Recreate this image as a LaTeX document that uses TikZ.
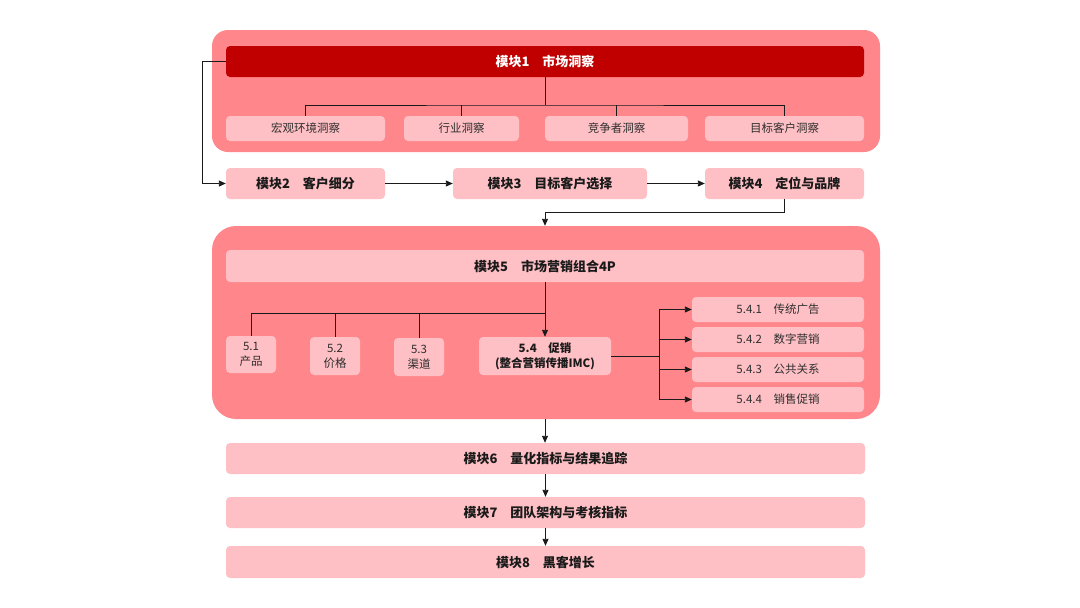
\documentclass[tikz,border=0pt]{standalone}
\usepackage{fontspec}
\setmainfont{Noto Sans CJK SC}
\usepackage{xcolor}
\usepackage{tikz}
\usetikzlibrary{arrows.meta}
\definecolor{panelred}{HTML}{FF868B}
\definecolor{boxpink}{HTML}{FFC0C5}
\definecolor{headred}{HTML}{C00000}
\definecolor{ink}{HTML}{1A1A1A}
\definecolor{inkm}{HTML}{2E2E2E}
\tikzset{
  panel/.style={fill=panelred, inner sep=0pt},
  head/.style={fill=headred, rounded corners=4pt, text=white, inner sep=0pt, font=\bfseries\fontsize{13}{15}\selectfont},
  modbox/.style={fill=boxpink, rounded corners=4pt, text=ink, inner sep=0pt, font=\bfseries\fontsize{13}{15}\selectfont},
  subbox/.style={fill=boxpink, rounded corners=4pt, text=inkm, inner sep=0pt, align=center, font=\fontsize{11.5}{15}\selectfont},
  link/.style={draw=ink, line width=0.9pt},
  arr/.style={link, -{Triangle[length=7pt,width=6pt]}}
}

\begin{document}
\begin{tikzpicture}[x=1pt, y=-1pt]
  \useasboundingbox[fill=white] (0,0) rectangle (1080,608);
  % panels
  \node[panel, rounded corners=16pt, minimum width=668, minimum height=122] (pan1) at (546,91) {};
  \node[panel, rounded corners=24pt, minimum width=668, minimum height=193] (pan5) at (546,322.5) {};
  % module 1
  \node[head, minimum width=638, minimum height=31] (mod1) at (545,61.5) {模块1\quad 市场洞察};
  \node[subbox, minimum width=159, minimum height=25] (ins1) at (305.5,128.5) {宏观环境洞察};
  \node[subbox, minimum width=115, minimum height=25] (ins2) at (461.5,128.5) {行业洞察};
  \node[subbox, minimum width=143, minimum height=25] (ins3) at (616.5,128.5) {竞争者洞察};
  \node[subbox, minimum width=159, minimum height=25] (ins4) at (784.5,128.5) {目标客户洞察};
  % modules 2-4
  \node[modbox, minimum width=159, minimum height=31] (mod2) at (305.5,183.5) {模块2\quad 客户细分};
  \node[modbox, minimum width=194, minimum height=31] (mod3) at (550,183.5) {模块3\quad 目标客户选择};
  \node[modbox, minimum width=159, minimum height=31] (mod4) at (784.5,183.5) {模块4\quad 定位与品牌};
  % module 5
  \node[modbox, minimum width=638, minimum height=32] (mod5) at (545,266) {模块5\quad 市场营销组合4P};
  \node[subbox, minimum width=50, minimum height=37] (prod) at (251,354.5) {5.1\\产品};
  \node[subbox, minimum width=50, minimum height=38] (price) at (335,356) {5.2\\价格};
  \node[subbox, minimum width=50, minimum height=38] (place) at (419,357) {5.3\\渠道};
  \node[subbox, minimum width=132, minimum height=38, text=ink, font=\bfseries\fontsize{11.5}{15}\selectfont] (promo) at (545,356) {5.4\quad 促销\\(整合营销传播IMC)};
  \node[subbox, minimum width=172, minimum height=25] (sp1) at (778,309.5) {5.4.1\quad 传统广告};
  \node[subbox, minimum width=172, minimum height=25] (sp2) at (778,339.5) {5.4.2\quad 数字营销};
  \node[subbox, minimum width=172, minimum height=25] (sp3) at (778,369.5) {5.4.3\quad 公共关系};
  \node[subbox, minimum width=172, minimum height=25] (sp4) at (778,399.5) {5.4.4\quad 销售促销};
  % modules 6-8
  \node[modbox, minimum width=639, minimum height=31] (mod6) at (545.5,458.5) {模块6\quad 量化指标与结果追踪};
  \node[modbox, minimum width=639, minimum height=31] (mod7) at (545.5,512.5) {模块7\quad 团队架构与考核指标};
  \node[modbox, minimum width=639, minimum height=32] (mod8) at (545.5,562) {模块8\quad 黑客增长};

  % connectors
  \coordinate (bus1) at (545,105);
  \coordinate (loop) at (202,61.5);
  \coordinate (turn) at (545,212.5);
  \coordinate (bus5) at (545,313);
  \coordinate (br) at (659,356);
  \draw[link] (mod1.south) -- (bus1);
  \draw[link] (ins1.north) |- (bus1) -| (ins4.north);
  \draw[link] (ins2.north) -- (ins2.north |- bus1);
  \draw[link] (ins3.north) -- (ins3.north |- bus1);
  \draw[arr] (mod1.west) -- (loop) |- (mod2.west);
  \draw[arr] (mod2.east) -- (mod3.west);
  \draw[arr] (mod3.east) -- (mod4.west);
  \draw[arr] (mod4.south) |- (turn) -- (turn |- pan5.north);
  \draw[arr] (mod5.south) -- (promo.north);
  \draw[link] (prod.north) |- (bus5);
  \draw[link] (price.north) -- (price.north |- bus5);
  \draw[link] (place.north) -- (place.north |- bus5);
  \draw[link] (promo.east) -- (br);
  \draw[link] (br |- sp1.west) -- (br |- sp4.west);
  \foreach \i in {1,...,4}
    \draw[arr] (br |- sp\i.west) -- (sp\i.west);
  \draw[arr] (turn |- pan5.south) -- (turn |- mod6.north);
  \draw[arr] (mod6.south) -- (mod7.north);
  \draw[arr] (mod7.south) -- (mod8.north);
\end{tikzpicture}
\end{document}
